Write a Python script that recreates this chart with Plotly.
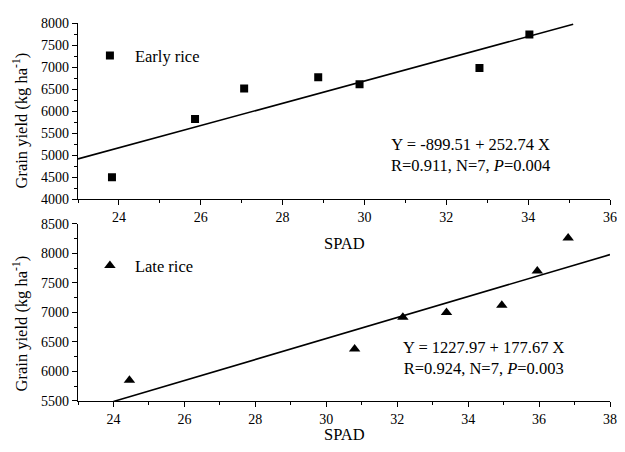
import plotly.graph_objects as go
from plotly.subplots import make_subplots

# ---- data ----
early_spad = [23.83, 25.86, 27.06, 28.87, 29.88, 32.81, 34.03]
early_yield = [4500, 5820, 6510, 6770, 6610, 6980, 7740]
late_spad = [24.45, 30.80, 32.16, 33.39, 34.95, 35.95, 36.82]
late_yield = [5850, 6380, 6920, 7000, 7120, 7700, 8260]

early_coef = [-899.51, 252.74]   # intercept, slope
late_coef = [1227.97, 177.67]
early_fit_x = [23.0, 35.1]
late_fit_x = [24.0, 38.0]

early_eq = "Y = -899.51 + 252.74 X<br>R=0.911, N=7, <i>P</i>=0.004"
late_eq = "Y = 1227.97 + 177.67 X<br>R=0.924, N=7, <i>P</i>=0.003"
ytitle = "Grain yield (kg ha<sup>-1</sup>)"
xtitle = "SPAD"

early_fit_y = [early_coef[0] + early_coef[1] * x for x in early_fit_x]
late_fit_y = [late_coef[0] + late_coef[1] * x for x in late_fit_x]

FONT = "Liberation Serif"
TXT = 16.5
TICK = 14

fig = make_subplots(rows=2, cols=1, vertical_spacing=0.0)

fig.add_trace(go.Scatter(x=early_spad, y=early_yield, mode="markers", name="Early rice",
                         marker=dict(symbol="square", size=8, color="black"),
                         legend="legend"), row=1, col=1)
fig.add_trace(go.Scatter(x=early_fit_x, y=early_fit_y, mode="lines", showlegend=False,
                         line=dict(color="black", width=1.6)), row=1, col=1)
fig.add_trace(go.Scatter(x=late_spad, y=late_yield, mode="markers", name="Late rice",
                         marker=dict(symbol="triangle-up", size=10, color="black"),
                         legend="legend2"), row=2, col=1)
fig.add_trace(go.Scatter(x=late_fit_x, y=late_fit_y, mode="lines", showlegend=False,
                         line=dict(color="black", width=1.6)), row=2, col=1)

axis_common = dict(showline=True, linecolor="black", linewidth=1.2, showgrid=False,
                   zeroline=False, ticks="outside", ticklen=5, tickwidth=1.2, tickcolor="black",
                   tickfont=dict(family=FONT, size=TICK, color="black"), mirror=False)

fig.update_xaxes(**axis_common)
fig.update_yaxes(**axis_common)

fig.update_xaxes(range=[23, 36], tick0=24, dtick=2,
                 minor=dict(dtick=1, tick0=23, ticklen=3, tickcolor="black", ticks="outside"),
                 domain=[0, 1], row=1, col=1)
fig.update_xaxes(range=[23, 38], tick0=24, dtick=2,
                 minor=dict(dtick=1, tick0=23, ticklen=3, tickcolor="black", ticks="outside"),
                 domain=[0, 1], row=2, col=1)
fig.update_yaxes(range=[4000, 8000], tick0=4000, dtick=500,
                 minor=dict(dtick=250, ticklen=3, tickcolor="black", ticks="outside"),
                 domain=[0.534, 1], row=1, col=1)
fig.update_yaxes(range=[5500, 8500], tick0=5500, dtick=500,
                 minor=dict(dtick=250, ticklen=3, tickcolor="black", ticks="outside"),
                 domain=[0, 0.4686], row=2, col=1)

ann = []
for y in (0.741, 0.204):
    ann.append(dict(text=ytitle, x=-0.108, y=y, xref="paper", yref="paper",
                    textangle=-90, showarrow=False, xanchor="center", yanchor="middle",
                    font=dict(family=FONT, size=TXT, color="black")))
for y in (0.416, -0.089):
    ann.append(dict(text=xtitle, x=0.501, y=y, xref="paper", yref="paper",
                    showarrow=False, xanchor="center", yanchor="middle",
                    font=dict(family=FONT, size=TXT, color="black")))
ann.append(dict(text=early_eq, x=0.738, y=0.652, xref="paper", yref="paper", align="center",
                showarrow=False, xanchor="center", yanchor="middle",
                font=dict(family=FONT, size=TXT, color="black")))
ann.append(dict(text=late_eq, x=0.7625, y=0.115, xref="paper", yref="paper", align="center",
                showarrow=False, xanchor="center", yanchor="middle",
                font=dict(family=FONT, size=TXT, color="black")))

legend_style = dict(font=dict(family=FONT, size=TXT, color="black"), bgcolor="rgba(0,0,0,0)",
                    borderwidth=0, xanchor="left", yanchor="middle", xref="paper", yref="paper",
                    itemwidth=40)
fig.update_layout(
    width=617, height=444,
    margin=dict(l=70, r=8, t=11, b=51),
    plot_bgcolor="white", paper_bgcolor="white",
    annotations=ann,
    legend=dict(x=0.013, y=0.913, **legend_style),
    legend2=dict(x=0.013, y=0.358, **legend_style),
    font=dict(family=FONT, color="black"),
)

fig.write_html("out.html")
